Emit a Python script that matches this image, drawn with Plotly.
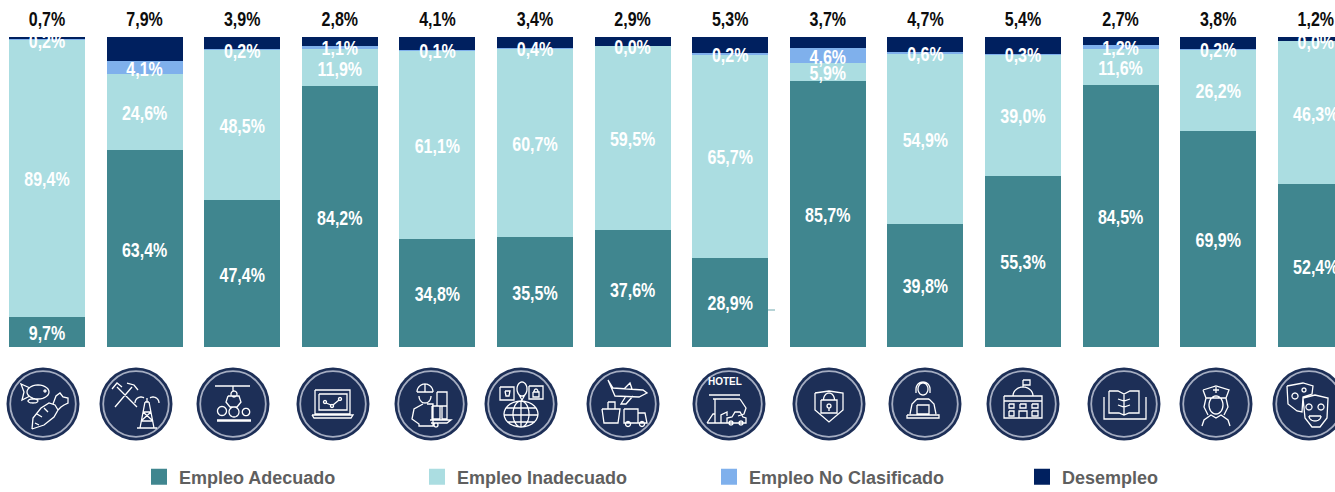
import math
import numpy as np
import plotly.graph_objects as go

W, H = 1335, 492

sectors = ["Agricultura y pesca", "Minas y petróleo", "Manufactura", "Tecnología", "Construcción",
           "Comercio", "Transporte", "Alojamiento", "Seguridad", "Servicios", "Administración pública",
           "Enseñanza", "Salud", "Artes"]
adecuado = [9.7, 63.4, 47.4, 84.2, 34.8, 35.5, 37.6, 28.9, 85.7, 39.8, 55.3, 84.5, 69.9, 52.4]
inadecuado = [89.4, 24.6, 48.5, 11.9, 61.1, 60.7, 59.5, 65.7, 5.9, 54.9, 39.0, 11.6, 26.2, 46.3]
no_clasificado = [0.2, 4.1, 0.2, 1.1, 0.1, 0.4, 0.0, 0.2, 4.6, 0.6, 0.3, 1.2, 0.2, 0.0]
desempleo = [0.7, 7.9, 3.9, 2.8, 4.1, 3.4, 2.9, 5.3, 3.7, 4.7, 5.4, 2.7, 3.8, 1.2]

series_names = ["Empleo Adecuado", "Empleo Inadecuado", "Empleo No Clasificado", "Desempleo"]
series_values = [adecuado, inadecuado, no_clasificado, desempleo]
series_colors = ["#40868F", "#ABDDE1", "#7FB0EC", "#00205F"]

FONT = "Liberation Sans, Arial, sans-serif"
CIRCLE = "#1D2F57"
RING = "#A6AEC2"


def fmt(v):
    return f"{v:.1f}".replace(".", ",") + "%"


# ---------- bars ----------
fig = go.Figure()
for name, vals, col in zip(series_names, series_values, series_colors):
    fig.add_trace(go.Bar(x=sectors, y=vals, name=name, marker=dict(color=col, line=dict(width=0)),
                         width=0.779, showlegend=False))

# ---------- labels inside the stacks ----------
arr = np.array(series_values, dtype=float)
norm = arr / arr.sum(axis=0) * 100
bottoms = np.vstack([np.zeros(arr.shape[1]), np.cumsum(norm, axis=0)[:-1]])
mids = bottoms + norm / 2
for i in range(3):
    fig.add_trace(go.Scatter(x=sectors, y=mids[i] - 1.0, mode="text", text=[fmt(v) for v in arr[i]],
                             textposition="middle center", cliponaxis=False, showlegend=False,
                             hoverinfo="skip",
                             textfont=dict(family=FONT, size=20, color="white", weight="bold")))
# Desempleo labels above the bars
fig.add_trace(go.Scatter(x=sectors, y=[102] * len(sectors), mode="text", text=[fmt(v) for v in desempleo],
                         textposition="top center", cliponaxis=False, showlegend=False, hoverinfo="skip",
                         textfont=dict(family=FONT, size=20, color="#0D0D0D", weight="bold")))

# ---------- legend: one legend per entry for the original uneven spacing ----------
legend_left = [139, 417, 709, 1022]
legend_ids = ["legend", "legend2", "legend3", "legend4"]
for name, col, lid in zip(series_names, series_colors, legend_ids):
    fig.add_trace(go.Scatter(x=[None], y=[None], mode="markers", name=name, legend=lid,
                             marker=dict(symbol="square", size=16, color=col), showlegend=True))

legend_layouts = {
    lid: dict(x=left / W, xanchor="left", y=1 - 477 / H, yanchor="middle", bgcolor="rgba(0,0,0,0)",
              borderwidth=0, orientation="h",
              font=dict(family=FONT, size=18, color="#5F5F5F", weight="bold"))
    for lid, left in zip(legend_ids, legend_left)
}


# ---------- icon helpers (decoration, local pixel coordinates) ----------
def ell(cx, cy, rx, ry=None, a0=0, a1=360, rot=0, n=28):
    ry = rx if ry is None else ry
    pts = []
    r = math.radians(rot)
    for k in range(n + 1):
        t = math.radians(a0 + (a1 - a0) * k / n)
        x, y = rx * math.cos(t), ry * math.sin(t)
        pts.append((cx + x * math.cos(r) - y * math.sin(r), cy + x * math.sin(r) + y * math.cos(r)))
    return pts


def rect(x0, y0, x1, y1):
    return [(x0, y0), (x1, y0), (x1, y1), (x0, y1), (x0, y0)]


def to_path(cx, cy, strokes):
    out = []
    for s in strokes:
        out.append("M" + "L".join(f"{(cx + x) / W:.5f},{1 - (cy + y) / H:.5f}" for x, y in s))
    return " ".join(out)


icons = [
    # fish + carrot
    [ell(-5, -12, 11, 7), [(-13, -8), (-21, -4), (-19, -12), (-22, -20), (-13, -16)], ell(2, -13, 1), ell(-10, -3, 5, 2),
     [(-11, 25), (-10, 14), (-2, 4), (6, -1), (12, 1), (15, 6), (11, 13), (1, 21), (-11, 25)],
     [(10, 0), (13, -8), (17, -11), (20, -7), (25, -6), (25, -1), (21, 1), (18, 3), (15, 6)],
     [(-6, 10), (-1, 13)], [(1, 4), (5, 8)], [(-8, 19), (-4, 21)]],
    # mining + oil rig
    [[(-19, -17), (1, 3)], [(-4, -17), (-21, 3)], [(-24, -15), (-19, -21), (-14, -17)], [(-9, -21), (-2, -19), (2, -14)],
     [(4, 24), (9, -2)], [(18, 24), (13, -2)], [(9, -2), (13, -2)], [(1, 24), (21, 24)], [(7, 8), (15, 8)], [(5, 17), (17, 17)], [(7, 8), (17, 17)], [(15, 8), (5, 17)],
     ell(5, -1, 6, 6, 180, 300), ell(17, -1, 6, 6, 240, 360), [(11, -2), (11, -6)]],
    # factory apples
    [[(-18, -18), (17, -18)], [(0, -18), (0, -13)], ell(1, -10, 3), [(-5, -8), (-7, -2), (-3, 3), (4, 3), (8, -2), (6, -8), (-5, -8)],
     ell(-11, 7, 4.5), ell(1, 8, 5), ell(13, 8, 3.7), [(-16, 16), (18, 16)], [(-16, 17), (18, 17)]],
    # laptop
    [rect(-18, -14, 17, 10), rect(-14, -10, 14, 6), [(-21, 11), (20, 11), (18, 14), (-19, 14), (-21, 11)],
     ell(-8, -2, 1.5), ell(-1, 2, 1.5), ell(7, -5, 1.5), [(-7, -1), (-2, 1)], [(0, 1), (6, -4)]],
    # construction worker + boxes
    [ell(-6, -12, 8, 8, 180, 360), [(-14, -12), (2, -12)], [(-6, -20), (-6, -12)], ell(-6, -8, 6, 7, 0, 180), [(-8, 0), (-17, 5), (-19, 15), (-12, 20), (-12, 22), (2, 22), (2, 0), (-4, 0)],
     rect(6, -12, 16, 2), rect(1, 2, 9, 15), rect(11, 2, 16, 15), [(-1, 16), (20, 16), (16, 19), (0, 19)], ell(5, 21, 2)],
    # globe + pins
    [ell(0, 10, 17, 13), [(-15, 4), (15, 4)], [(-17, 11), (17, 11)], [(-14, 18), (14, 18)], [(0, -3), (0, 23)], ell(0, 10, 8, 13),
     rect(-21, -17, -7, -4), rect(8, -18, 22, -5), ell(1, -15, 5, 7), [(-3, -11), (1, -4), (5, -11)], [(-16, -13), (-11, -13), (-12, -8), (-15, -8), (-16, -13)], rect(12, -12, 18, -7), ell(15, -12, 2, 3, 180, 360)],
    # plane + ship + truck
    [[(-15, -24), (-10, -16), (20, -14), (24, -11), (16, -7), (-8, -8), (-15, -24)], [(3, -8), (-2, 0), (3, 0), (10, -8)], [(1, -15), (7, -21), (9, -15)],
     rect(-15, -2, -8, 5), [(-21, 5), (-19, 19), (-5, 19), (-3, 5), (-21, 5)], rect(1, 5, 15, 19), [(15, 9), (22, 9), (24, 19), (15, 19)], ell(5, 20, 2.5), ell(19, 20, 2.5)],
    # hotel + car
    [[(-20, -9), (11, -9)], [(-14, -5), (-14, 19)], [(-16, -5), (11, -5)], [(11, -5), (17, 4), (15, 10), (9, 12)], [(-22, 19), (-16, 10), (-14, 10)], [(-22, 19), (-2, 19)], [(-8, 19), (-8, 11), (-2, 8), (-2, 12)],
     [(-2, 19), (-2, 14), (3, 13), (6, 8), (11, 8), (14, 13), (17, 14), (17, 19), (-2, 19)], ell(2, 19, 2), ell(12, 19, 2)],
    # shield + lock
    [[(-14, -11), (0, -13), (14, -11), (14, 6), (0, 18), (-14, 6), (-14, -11)], rect(-8, -4, 8, 9), ell(0, -4, 5.5, 7, 180, 360), ell(0, 2, 2), [(0, 4), (0, 7)]],
    # call-centre agent
    [ell(-2, -15, 5, 6), ell(-2, -15, 7, 7, 180, 360), [(-9, -15), (-9, -11)], [(5, -15), (5, -11)], [(-8, -5), (-13, 0), (-15, 10)], [(4, -5), (9, 0), (11, 10)], [(-8, -5), (4, -5)], rect(-8, 1, 4, 10), rect(-18, 11, 14, 14)],
    # public building
    [[(-19, -8), (19, -8), (19, 14), (-19, 14), (-19, -8)], ell(0, -8, 10, 9, 180, 360), [(0, -17), (0, -24)], rect(0, -24, 7, -19), [(-19, -3), (19, -3)],
     rect(-14, 0, -9, 4), rect(-3, 0, 3, 4), rect(9, 0, 15, 4), rect(-14, 7, -9, 12), rect(9, 7, 15, 12), [(-4, 14), (-4, 7), (4, 7), (4, 14)]],
    # open book
    [[(-15, -13), (-6, -13), (0, -10), (6, -13), (15, -13), (15, 9), (5, 9), (0, 11), (-5, 9), (-15, 9), (-15, -13)], [(0, -10), (0, 11)],
     [(-6, -5), (0, -3), (6, -5)], [(-6, 1), (0, 3), (6, 1)], [(-20, -7), (-20, 15), (22, 15), (22, -7)]],
    # nurse
    [[(-13, -14), (0, -18), (13, -14), (10, -6), (-10, -6), (-13, -14)], [(-3, -14), (3, -14)], [(0, -17), (0, -11)], ell(0, 1, 7, 9), [(-10, -6), (-12, 3), (-8, 11)], [(10, -6), (12, 3), (8, 11)],
     [(-14, 22), (-12, 16), (-5, 11), (0, 14), (5, 11), (12, 16), (14, 22)]],
    # theatre masks
    [[(-22, -18), (-6, -21), (4, -18), (3, -10), (-6, -7), (-7, 8), (-12, 7), (-21, 0), (-22, -18)], ell(-14, -8, 3), ell(-5, -14, 2),
     [(-6, -6), (6, -9), (19, -6), (18, 14), (11, 23), (3, 23), (-4, 14), (-6, -6)], ell(0, 3, 3), ell(12, 3, 3), ell(6, 12, 6, 5, 0, 180), [(0, 12), (12, 12)]],
]
icon_x = [43, 136, 233, 333, 431, 521, 623, 729, 829, 925, 1023, 1124, 1216, 1309]
ICON_Y = 404
shapes = []
for cx, strokes in zip(icon_x, icons):
    for r, kw in ((36.5, dict(fillcolor=CIRCLE, line=dict(width=0))),
                  (32.8, dict(fillcolor=CIRCLE, line=dict(color=RING, width=1.8)))):
        shapes.append(dict(type="circle", xref="paper", yref="paper",
                           x0=(cx - r) / W, x1=(cx + r) / W, y0=1 - (ICON_Y + r) / H, y1=1 - (ICON_Y - r) / H, **kw))
    shapes.append(dict(type="path", xref="paper", yref="paper", path=to_path(cx, ICON_Y, strokes),
                       line=dict(color="white", width=1.3)))
# small stray tick right of the Alojamiento bar
shapes.append(dict(type="line", xref="paper", yref="paper", x0=768 / W, x1=775 / W, y0=1 - 310 / H, y1=1 - 310 / H,
                   line=dict(color="#6FA8AE", width=1)))

px0, pitch = 47.0, 97.6
# y axis keeps 100 % = 310 px and extends to the page top so the labels above the bars stay in range
y_top = 100 * 347 / 310
fig.update_layout(
    width=W, height=H, margin=dict(l=0, r=0, t=0, b=0, autoexpand=False), autosize=False,
    barmode="stack", barnorm="percent",
    paper_bgcolor="white", plot_bgcolor="white",
    xaxis=dict(domain=[0, 1], type="category", range=[-px0 / pitch, (W - px0) / pitch], visible=False, fixedrange=True),
    yaxis=dict(domain=[1 - 347 / H, 1], range=[0, y_top], visible=False, fixedrange=True),
    shapes=shapes,
    annotations=[dict(text="HOTEL", xref="paper", yref="paper", x=724.5 / W, y=1 - 389 / H, showarrow=False,
                      font=dict(family=FONT, size=10, color="white", weight="bold"))],
    **legend_layouts,
)

# Page margin off; value labels condensed like the reference's narrow type (still real text).
POST = """
document.documentElement.style.overflow='hidden';
document.body.style.margin='0';
(function(){
  var gd=document.getElementById('{plot_id}');
  function squeeze(){
    gd.querySelectorAll('.textpoint text').forEach(function(t){
      if(t.dataset.sq) return;
      var w=t.getComputedTextLength();
      if(!w) return;
      t.setAttribute('lengthAdjust','spacingAndGlyphs');
      t.setAttribute('textLength',(w*0.8).toFixed(1));
      t.dataset.sq='1';
    });
  }
  squeeze(); setTimeout(squeeze,50);
  if(gd.on) gd.on('plotly_afterplot',squeeze);
})();
"""
fig.write_html("out.html", post_script=POST, config=dict(displayModeBar=False))
